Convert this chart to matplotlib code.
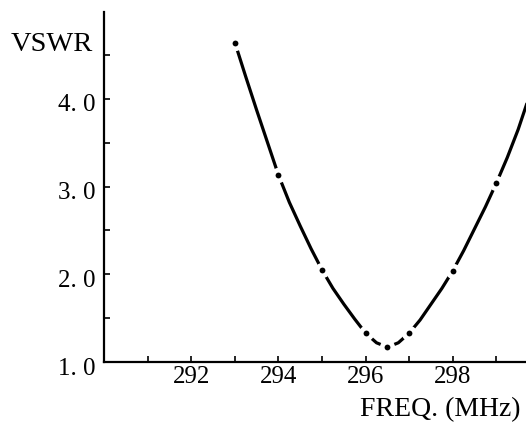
import numpy as np
import matplotlib.pyplot as plt
import matplotlib.transforms as mtransforms

# measured VSWR points (dots on the curve)
freq_pts = [293.0, 294.0, 295.0, 296.0, 296.5, 297.0, 298.0, 299.0]
vswr_pts = [4.64, 3.13, 2.05, 1.33, 1.17, 1.33, 2.04, 3.04]

# curve readings, denser than the measured points
freq_curve = [293.0, 293.25, 293.5, 293.75, 294.0, 294.25, 294.5, 294.75,
              295.0, 295.25, 295.5, 295.75, 296.0, 296.25, 296.5, 296.75,
              297.0, 297.25, 297.5, 297.75, 298.0, 298.25, 298.5, 298.75,
              299.0, 299.25, 299.5, 299.75]
vswr_curve = [4.64, 4.25, 3.87, 3.50, 3.13, 2.82, 2.55, 2.29,
              2.05, 1.84, 1.66, 1.49, 1.33, 1.22, 1.17, 1.22,
              1.33, 1.48, 1.66, 1.84, 2.04, 2.27, 2.52, 2.77,
              3.04, 3.33, 3.65, 4.02]

x_ticks = [291, 292, 293, 294, 295, 296, 297, 298, 299]
x_labels = ['', '292', '', '294', '', '296', '', '298', '']
y_ticks = [1.0, 2.0, 3.0, 4.0]
y_labels = ['1. 0', '2. 0', '3. 0', '4. 0']

plt.rcParams['font.family'] = ['Liberation Serif', 'DejaVu Serif']

fig = plt.figure(figsize=(5.26, 4.24), dpi=100)
ax = fig.add_axes([0.198, 0.146, 0.802, 0.826])

ax.plot(freq_curve, vswr_curve, color='black', lw=2.3, solid_capstyle='butt',
        solid_joinstyle='round', zorder=2)
# break the line around each measured point, then put the dot in
ax.plot(freq_pts, vswr_pts, 'o', ms=11, color='white', mec='none', zorder=3)
ax.plot(freq_pts, vswr_pts, 'o', ms=4.2, color='black', mec='none', zorder=4)

ax.set_xlim(290, 299.68)
ax.set_ylim(1.0, 4.99)

ax.spines['top'].set_visible(False)
ax.spines['right'].set_visible(False)
ax.spines['left'].set_linewidth(1.6)
ax.spines['bottom'].set_linewidth(1.6)

ax.set_xticks(x_ticks)
ax.set_xticklabels(x_labels, fontsize=18)
ax.set_yticks(y_ticks)
ax.set_yticklabels(y_labels, fontsize=18)
ax.set_yticks([1.5, 2.5, 3.5, 4.5], minor=True)
ax.tick_params(axis='both', which='both', direction='in', length=4, width=1.2, pad=3)
ax.tick_params(axis='y', pad=6)

# y labels sit a little below their ticks
shift = mtransforms.ScaledTranslation(0, -4 / 100, fig.dpi_scale_trans)
for lab in ax.get_yticklabels():
    lab.set_transform(lab.get_transform() + shift)

fig.text(0.02, 0.895, 'VSWR', fontsize=20.5, ha='left', va='center')
fig.text(0.99, 0.035, 'FREQ. (MHz)', fontsize=20, ha='right', va='center')

fig.savefig('out.png', dpi=100)
